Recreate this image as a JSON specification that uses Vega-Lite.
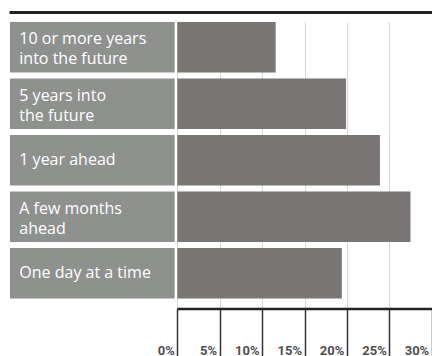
{
  "$schema": "https://vega.github.io/schema/vega-lite/v6.json",
  "width": 423,
  "height": 287,
  "autosize": {"type": "none"},
  "padding": {"left": 9, "top": 22, "right": 0, "bottom": 47},
  "background": "white",
  "config": {"view": {"stroke": null}},
  "data": {
    "values": [
      {"category": "10 or more years into the future", "line1": "10 or more years", "line2": "into the future", "value": 11.6},
      {"category": "5 years into the future", "line1": "5 years into", "line2": "the future", "value": 19.9},
      {"category": "1 year ahead", "line1": "1 year ahead", "line2": "", "value": 23.9},
      {"category": "A few months ahead", "line1": "A few months", "line2": "ahead", "value": 27.5},
      {"category": "One day at a time", "line1": "One day at a time", "line2": "", "value": 19.4}
    ]
  },
  "resolve": {"axis": {"x": "independent"}},
  "layer": [
    {
      "mark": {"type": "bar", "color": "#8f918f"},
      "encoding": {
        "y": {"field": "category", "type": "nominal", "sort": null, "axis": null,
              "scale": {"paddingInner": 0.105, "paddingOuter": 0.0925, "align": 0}},
        "x": {"datum": -19.73, "type": "quantitative",
              "scale": {"domain": [-19.846, 30.035], "nice": false, "zero": false},
              "axis": {"orient": "top", "domain": true, "domainColor": "#222222", "domainWidth": 3,
                       "ticks": false, "labels": false, "grid": false, "offset": 10, "title": null}},
        "x2": {"datum": -0.31}
      }
    },
    {
      "mark": {"type": "bar", "color": "#7a7675"},
      "encoding": {
        "y": {"field": "category", "type": "nominal", "sort": null, "axis": null},
        "x": {"field": "value", "type": "quantitative",
              "scale": {"domain": [-19.846, 30.035], "nice": false, "zero": false},
              "axis": {"orient": "bottom", "values": [0, 5, 10, 15, 20, 25, 30],
                       "labelExpr": "datum.value + '%'", "title": null,
                       "domain": false, "grid": true, "gridColor": "#d6d6d6", "gridWidth": 1,
                       "ticks": true, "tickColor": "#333333", "tickSize": 47, "tickWidth": 1.5,
                       "labelAlign": "right", "labelBaseline": "alphabetic", "labelPadding": -2,
                       "labelOffset": -3, "labelFont": "Roboto", "labelFontSize": 13,
                       "labelFontWeight": "bold", "labelColor": "#505050"}},
        "x2": {"datum": 0}
      }
    },
    {
      "transform": [{"filter": "datum.line2 == ''"}],
      "mark": {"type": "text", "align": "left", "baseline": "alphabetic", "dy": 4.5,
               "font": "Open Sans", "fontSize": 16, "color": "white"},
      "encoding": {
        "y": {"field": "category", "type": "nominal", "sort": null, "axis": null},
        "x": {"datum": -18.63, "type": "quantitative", "axis": null},
        "text": {"field": "line1"}
      }
    },
    {
      "transform": [{"filter": "datum.line2 != ''"}],
      "mark": {"type": "text", "align": "left", "baseline": "alphabetic", "dy": -3,
               "font": "Open Sans", "fontSize": 16, "color": "white"},
      "encoding": {
        "y": {"field": "category", "type": "nominal", "sort": null, "axis": null},
        "x": {"datum": -18.63, "type": "quantitative", "axis": null},
        "text": {"field": "line1"}
      }
    },
    {
      "transform": [{"filter": "datum.line2 != ''"}],
      "mark": {"type": "text", "align": "left", "baseline": "alphabetic", "dy": 17,
               "font": "Open Sans", "fontSize": 16, "color": "white"},
      "encoding": {
        "y": {"field": "category", "type": "nominal", "sort": null, "axis": null},
        "x": {"datum": -18.63, "type": "quantitative", "axis": null},
        "text": {"field": "line2"}
      }
    },
    {
      "data": {"values": [{}]},
      "mark": {"type": "rule", "color": "#222222", "strokeWidth": 2.5},
      "encoding": {
        "x": {"datum": 0, "type": "quantitative", "axis": null},
        "x2": {"datum": 30.035},
        "y": {"value": "height"}
      }
    }
  ]
}
